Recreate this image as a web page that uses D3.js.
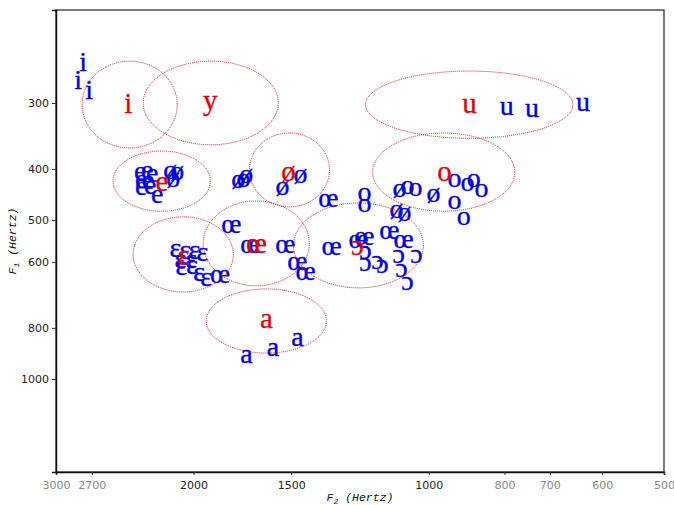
<!DOCTYPE html>
<html><head><meta charset="utf-8">
<script src="https://cdn.jsdelivr.net/npm/d3@7"></script>
<style>html,body{margin:0;padding:0;background:#fff;}</style>
</head><body>
<svg id="chart" width="674" height="505"></svg>
<script>
// ---- data ----
const vowels = ["i","y","e","ø","ɛ","œ","a","ɔ","o","u"];
const meanF2 = [2425,1904,2196,1512,2062,1662,1614,1234,955,887];
const meanF1 = [304,301,428,409,590,560,778,565,409,305];
// ellipse extents (Hz)
const ellF2lo = [2099,1558,1904,1340,1779,1422,1352,1016,776,654];
const ellF2hi = [2778,2320,2536,1697,2390,1944,1927,1490,1180,1205];
const ellF1lo = [250,250,370,342,493,460,675,464,342,261];
const ellF1hi = [365,360,481,472,684,666,893,672,481,350];
// individual tokens
const tokenVowel = [
 "i","i","i",
 "e","e","e","e","e","e","e","e",
 "ø","ø","ø","ø","ø","ø","ø","ø","ø","ø","ø","ø",
 "ɛ","ɛ","ɛ","ɛ","ɛ","ɛ","ɛ","ɛ","ɛ","ɛ",
 "œ","œ","œ","œ","œ","œ","œ","œ","œ","œ","œ","œ",
 "a","a","a",
 "ɔ","ɔ","ɔ","ɔ","ɔ","ɔ","ɔ","ɔ",
 "o","o","o","o","o","o","o","o","o","o",
 "u","u","u"];
const tokenF2 = [
 2770,2811,2721,
 2341,2293,2259,2334,2286,2334,2273,2226,
 2142,2099,2124,1753,1727,1712,1539,1460,1090,1100,1074,986,
 2111,2050,1996,1949,2080,2014,2074,2008,1967,1927,
 1789,1692,1526,1473,1438,1344,1332,1849,1230,1209,1123,1077,
 1712,1583,1473,
 1205,1205,1163,1146,1093,1037,1084,1065,
 927,892,876,856,927,902,1065,1040,1209,1209,
 795,738,635];
const tokenF1 = [
 254,274,287,
 409,407,411,422,425,435,433,452,
 407,409,420,423,420,413,435,414,439,481,489,450,
 570,577,577,580,600,600,619,616,633,649,
 515,562,562,605,632,460,565,641,550,543,529,548,
 905,881,842,
 575,606,603,611,585,585,624,658,
 420,429,420,440,464,496,433,437,448,470,
 307,310,302];
const xTicks = [3000,2700,2000,1500,1000,800,700,600,500];
const xMajor = [2000,1500,1000];
const yTicks = [300,400,500,600,800,1000];

// ---- layout ----
const L = 56, R = 664, T = 10, B = 472;
const svg = d3.select("#chart");
const x = d3.scaleLog().domain([3000,500]).range([L,R]);
const y = d3.scaleLog().domain([200,1500]).range([T,B]);

const serif = "'Liberation Serif','DejaVu Serif',serif";
const fsTok = 28, fsMean = 29;
const blue = "#0000dd", red = "#e00000";

// tokens
svg.append("g").selectAll("text").data(tokenVowel).join("text")
  .attr("x", (d,i)=>x(tokenF2[i]))
  .attr("y", (d,i)=>y(tokenF1[i]))
  .attr("dy","0.23em")
  .attr("text-anchor","middle")
  .attr("font-family",serif).attr("font-size",fsTok)
  .attr("fill",blue).attr("stroke",blue).attr("stroke-width",0.35)
  .text(d=>d);

// ellipses
svg.append("g").selectAll("ellipse").data(vowels).join("ellipse")
  .attr("cx",(d,i)=>(x(ellF2lo[i])+x(ellF2hi[i]))/2)
  .attr("cy",(d,i)=>(y(ellF1lo[i])+y(ellF1hi[i]))/2)
  .attr("rx",(d,i)=>Math.abs(x(ellF2hi[i])-x(ellF2lo[i]))/2)
  .attr("ry",(d,i)=>Math.abs(y(ellF1hi[i])-y(ellF1lo[i]))/2)
  .attr("fill","none").attr("stroke",red).attr("stroke-width",0.9)
  .attr("stroke-dasharray","1,1");

// means
svg.append("g").selectAll("text").data(vowels).join("text")
  .attr("x",(d,i)=>x(meanF2[i]))
  .attr("y",(d,i)=>y(meanF1[i]))
  .attr("dy","0.23em")
  .attr("text-anchor","middle")
  .attr("font-family",serif).attr("font-size",fsMean)
  .attr("fill",red).attr("stroke",red).attr("stroke-width",0.3)
  .text(d=>d);

// frame
svg.append("rect").attr("x",L).attr("y",T).attr("width",R-L).attr("height",B-T)
  .attr("fill","none").attr("stroke","#222").attr("stroke-width",1.2);

// axes
const xAxis = d3.axisBottom(x).tickValues(xTicks).tickSize(3).tickFormat(d3.format("d"));
const gx = svg.append("g").attr("transform",`translate(0,${B})`).call(xAxis);
gx.select(".domain").attr("stroke","#111").attr("stroke-width",1.5);
gx.selectAll(".tick line").attr("stroke","#333");
gx.selectAll(".tick text")
  .attr("font-family","'DejaVu Sans',sans-serif").attr("font-size",11)
  .attr("dy","1em")
  .attr("fill",d=>xMajor.includes(d)?"#222":"#888");

const yAxis = d3.axisLeft(y).tickValues(yTicks).tickSize(4).tickFormat(d3.format("d"));
const gy = svg.append("g").attr("transform",`translate(${L},0)`).call(yAxis);
gy.select(".domain").attr("stroke","#111").attr("stroke-width",1.5);
gy.selectAll(".tick line").attr("stroke","#333");
gy.selectAll(".tick text")
  .attr("font-family","'DejaVu Sans',sans-serif").attr("font-size",11)
  .attr("fill","#222");

// axis titles
const mono = "'Liberation Mono','DejaVu Sans Mono',monospace";
const xt = svg.append("text").attr("x",(L+R)/2).attr("y",501)
  .attr("text-anchor","middle").attr("font-family",mono).attr("font-style","italic")
  .attr("font-size",11.5).attr("fill","#111");
xt.append("tspan").text("F");
xt.append("tspan").attr("font-size",8).attr("dy",3).text("2");
xt.append("tspan").attr("dy",-3).text(" (Hertz)");

const yt = svg.append("text").attr("transform",`translate(16,${(T+B)/2}) rotate(-90)`)
  .attr("text-anchor","middle").attr("font-family",mono).attr("font-style","italic")
  .attr("font-size",11.5).attr("fill","#111");
yt.append("tspan").text("F");
yt.append("tspan").attr("font-size",8).attr("dy",3).text("1");
yt.append("tspan").attr("dy",-3).text(" (Hertz)");
</script>
</body></html>
